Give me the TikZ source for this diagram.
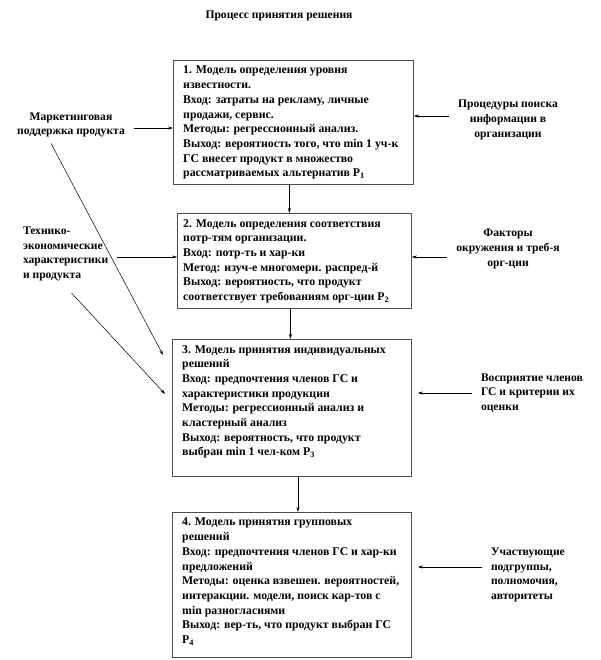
\documentclass[tikz,border=0pt]{standalone}
\usepackage{fontspec}
\setmainfont{Liberation Serif}
\usetikzlibrary{arrows.meta}

\begin{document}
\begin{tikzpicture}[x=1pt,y=-1pt,>={Stealth[length=5pt,width=3pt]},
   modelbox/.style={draw=black!70,line width=0.8pt,anchor=north west,inner sep=0pt},
   boxtext/.style={anchor=north west,align=left,inner sep=0pt,
      font=\fontsize{11.8}{14.7}\selectfont\bfseries},
   sidelabel/.style={inner sep=0pt,outer sep=9pt,
      font=\fontsize{11.6}{14.7}\selectfont\bfseries},
   link/.style={->,line width=0.5pt}]
\useasboundingbox (0,0) rectangle (600,660);
\node[font=\fontsize{11.6}{14.7}\selectfont\bfseries] (title) at (279,16) {Процесс принятия решения};
% boxes
\node[modelbox,minimum width=240pt,minimum height=124pt] (b1) at (173,60) {};
\node[modelbox,minimum width=234pt,minimum height=95pt] (b2) at (177,213) {};
\node[modelbox,minimum width=239pt,minimum height=137pt] (b3) at (172,339) {};
\node[modelbox,minimum width=239pt,minimum height=145pt] (b4) at (172,512) {};
\node[boxtext] (t1) at ([shift={(10,6)}]b1.north west) {1. Модель определения уровня\\
   известности.\\
   Вход: затраты на рекламу, личные\\
   продажи, сервис.\\
   Методы: регрессионный анализ.\\
   Выход: вероятность того, что min 1 уч-к\\
   ГС внесет продукт в множество\\
   рассматриваемых альтернатив P\textsubscript{1}};
\node[boxtext] (t2) at ([shift={(6,6)}]b2.north west) {2. Модель определения соответствия\\
   потр-тям организации.\\
   Вход: потр-ть и хар-ки\\
   Метод: изуч-е многомерн. распред-й\\
   Выход: вероятность, что продукт\\
   соответствует требованиям орг-ции P\textsubscript{2}};
\node[boxtext] (t3) at ([shift={(10,6)}]b3.north west) {3. Модель принятия индивидуальных\\
   решений\\
   Вход: предпочтения членов ГС и\\
   характеристики продукции\\
   Методы: регрессионный анализ и\\
   кластерный анализ\\
   Выход: вероятность, что продукт\\
   выбран min 1 чел-ком P\textsubscript{3}};
\node[boxtext] (t4) at ([shift={(10,6)}]b4.north west) {4. Модель принятия групповых\\
   решений\\
   Вход: предпочтения членов ГС и хар-ки\\
   предложений\\
   Методы: оценка взвешен. вероятностей,\\
   интеракции. модели, поиск кар-тов с\\
   min разногласиями\\
   Выход: вер-ть, что продукт выбран ГС\\
   P\textsubscript{4}};
% side labels
\node[sidelabel,align=center] (mark) at (71,125) {Маркетинговая\\поддержка продукта};
\node[sidelabel,align=left,anchor=west] (tech) at (14,254) {Технико-\\экономические\\характеристики\\и продукта};
\node[sidelabel,align=center] (proc) at (508,120) {Процедуры поиска\\информации в\\организации};
\node[sidelabel,align=center] (fact) at (508,249) {Факторы\\окружения и треб-я\\орг-ции};
\node[sidelabel,align=left,anchor=west] (vosp) at (472,393) {Восприятие членов\\ГС и критерии их\\оценки};
\node[sidelabel,align=left,anchor=west] (uch) at (482,575) {Участвующие\\подгруппы,\\полномочия,\\авторитеты};
% arrows
\draw[link] ([xshift=-4pt]b1.south) -- ([xshift=-4pt]b1.south |- b2.north);
\draw[link] ([xshift=-4pt]b2.south) -- ([xshift=-4pt]b2.south |- b3.north);
\draw[link] ([xshift=6pt]b3.south) -- ([xshift=6pt]b3.south |- b4.north);
\draw[link] ([yshift=-3pt]mark.east) -- ([yshift=-3pt]mark.east -| b1.west);
\draw[link] ([yshift=-3pt]tech.east) -- ([yshift=-3pt]tech.east -| b2.west);
\draw[link] ([yshift=4pt]proc.west) -- ([yshift=4pt]proc.west -| b1.east);
\draw[link] ([yshift=-8pt]fact.west) -- ([yshift=-8pt]fact.west -| b2.east);
\draw[link,shorten >=6pt] (vosp.west) -- (vosp.west -| b3.east);
\draw[link,shorten >=6pt] ([yshift=8pt]uch.west) -- ([yshift=8pt]uch.west -| b4.east);
\draw[link] ([shift={(-20,-3)}]mark.south) -- ([shift={(-9,16)}]b3.north west);
\draw[link] ([shift={(6,3)}]tech.south) -- ([shift={(-7,55)}]b3.north west);
\end{tikzpicture}
\end{document}
